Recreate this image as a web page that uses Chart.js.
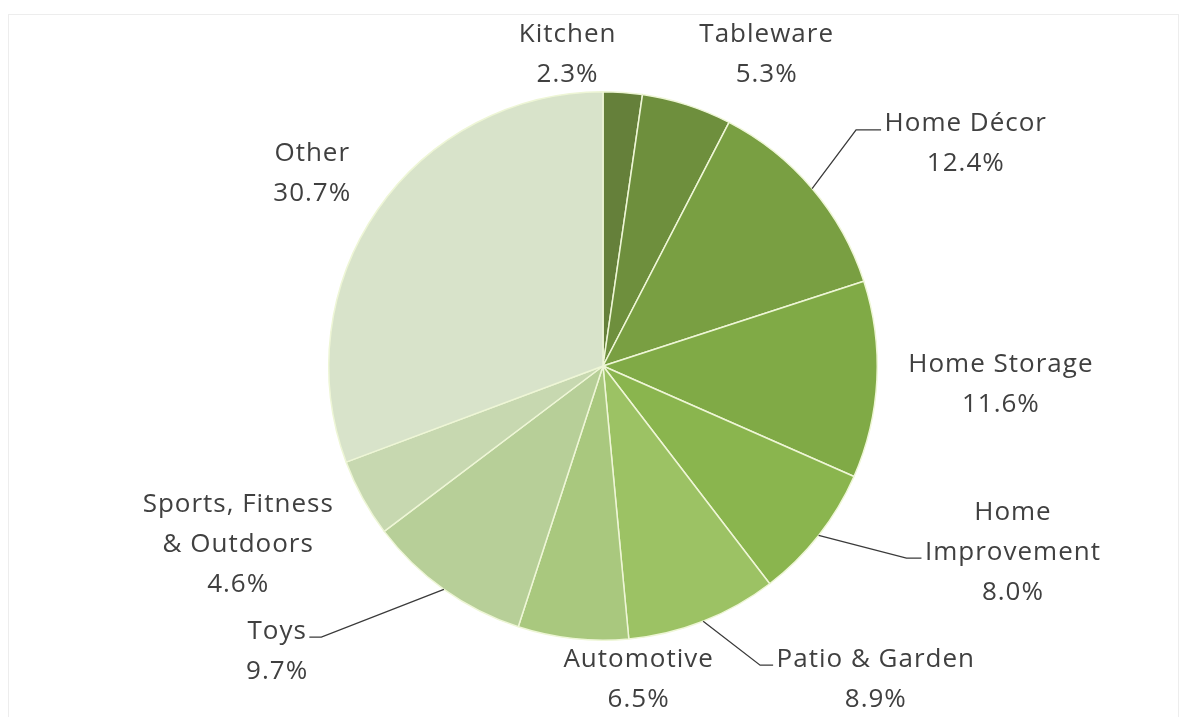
<!DOCTYPE html>
<html>
<head>
<meta charset="utf-8">
<script src="https://cdn.jsdelivr.net/npm/chart.js@4.4.0/dist/chart.umd.min.js"></script>
<style>
  html, body { margin: 0; padding: 0; background: #ffffff; }
  #wrap { position: absolute; left: 0; top: 0; width: 1190px; height: 717px; overflow: hidden; }
  #frame { position: absolute; left: 8px; top: 14px; width: 1171px; height: 720px;
           border: 1px solid #ededed; box-sizing: border-box; }
  canvas { position: absolute; left: 0; top: 0; }
</style>
</head>
<body>
<div id="wrap">
  <div id="frame"></div>
  <canvas id="c" width="1190" height="717"></canvas>
</div>
<script>
// Category names (arrays wrap onto several lines)
const categories = [
  'Kitchen', 'Tableware', 'Home Décor', 'Home Storage', ['Home', 'Improvement'],
  'Patio & Garden', 'Automotive', 'Toys', ['Sports, Fitness', '& Outdoors'], 'Other'
];
// Share of sales, percent
const shares = [2.3, 5.3, 12.4, 11.6, 8.0, 8.9, 6.5, 9.7, 4.6, 30.7];
// Slice fills, darkest olive to pale sage
const sliceColors = [
  '#65803a', '#6e8f3d', '#799f42', '#80aa46', '#8ab54e',
  '#9cc264', '#a9c87e', '#b7cf98', '#c7d8b0', '#d8e3ca'
];

// Label block centres, as multiples of the pie radius from its centre
const labelPlacement = [
  [-0.131, -1.135], [0.595, -1.135], [1.321, -0.810], [1.449, 0.069], [1.493, 0.679],
  [0.993, 1.142], [0.128, 1.142], [-1.190, 1.040], [-1.332, 0.653], [-1.062, -0.701]
];
// Leader lines: text line they attach to, side of the text, length of the horizontal run
const leaders = {
  2: { line: 0, side: 'left', run: 25 },
  4: { line: 1, side: 'left', run: 15 },
  5: { line: 0, side: 'left', run: 13 },
  7: { line: 0, side: 'right', run: 12 }
};

const FONT = '26px "Open Sans", "DejaVu Sans", sans-serif';
const LETTER_SPACING = 1;
const TEXT_COLOR = '#404040';
const LINE_H = 40;

const outsideLabels = {
  id: 'outsideLabels',
  afterDatasetsDraw(chart) {
    const ctx = chart.ctx;
    const meta = chart.getDatasetMeta(0);
    ctx.save();
    ctx.font = FONT;
    if ('letterSpacing' in ctx) ctx.letterSpacing = LETTER_SPACING + 'px';
    ctx.fillStyle = TEXT_COLOR;
    ctx.textAlign = 'center';
    ctx.textBaseline = 'middle';
    meta.data.forEach((arc, i) => {
      const p = arc.getProps(['x', 'y', 'outerRadius', 'startAngle', 'endAngle'], true);
      const name = chart.data.labels[i];
      const lines = (Array.isArray(name) ? name.slice() : [name]);
      lines.push(chart.data.datasets[0].data[i].toFixed(1) + '%');
      const lx = p.x + labelPlacement[i][0] * p.outerRadius;
      const ly = p.y + labelPlacement[i][1] * p.outerRadius;
      const firstY = ly - (lines.length - 1) * LINE_H / 2;
      lines.forEach((t, k) => ctx.fillText(t, lx + LETTER_SPACING / 2, firstY + k * LINE_H));

      const ld = leaders[i];
      if (ld) {
        const mid = (p.startAngle + p.endAngle) / 2;
        const ex = p.x + p.outerRadius * Math.cos(mid);
        const ey = p.y + p.outerRadius * Math.sin(mid);
        const w = ctx.measureText(lines[ld.line]).width;
        const ty = firstY + ld.line * LINE_H + 6;
        const endX = ld.side === 'left' ? lx - w / 2 - 3 : lx + w / 2 + 3;
        const elbowX = ld.side === 'left' ? endX - ld.run : endX + ld.run;
        ctx.beginPath();
        ctx.strokeStyle = '#3a3a3a';
        ctx.lineWidth = 1.3;
        ctx.moveTo(ex, ey);
        ctx.lineTo(elbowX, ty);
        ctx.lineTo(endX, ty);
        ctx.stroke();
      }
    });
    ctx.restore();
  }
};

new Chart(document.getElementById('c'), {
  type: 'pie',
  data: {
    labels: categories,
    datasets: [{
      data: shares,
      backgroundColor: sliceColors,
      borderColor: '#eef6d6',
      borderWidth: 1.5,
      hoverOffset: 0
    }]
  },
  options: {
    responsive: false,
    animation: false,
    devicePixelRatio: 1,
    layout: { padding: { top: 91, bottom: 76, left: 200, right: 184 } },
    plugins: {
      legend: { display: false },
      tooltip: { enabled: false }
    }
  },
  plugins: [outsideLabels]
});
</script>
</body>
</html>
